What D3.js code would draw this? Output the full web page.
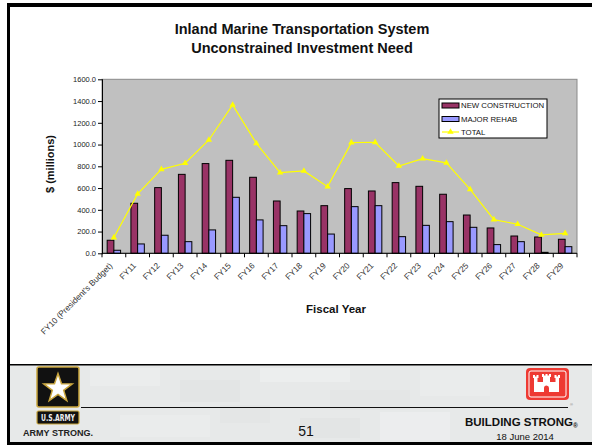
<!DOCTYPE html>
<html>
<head>
<meta charset="utf-8">
<script src="https://cdn.jsdelivr.net/npm/d3@7/dist/d3.min.js"></script>
<style>
  html, body { margin: 0; padding: 0; background: #fff; }
  svg { display: block; font-family: "Liberation Sans", Arial, sans-serif; }
</style>
</head>
<body>
<svg id="slide" width="592" height="445"></svg>
<script>
// Fiscal years and investment need ($ millions)
const categories = ["FY10 (President's Budget)", "FY11", "FY12", "FY13", "FY14", "FY15", "FY16", "FY17", "FY18", "FY19",
  "FY20", "FY21", "FY22", "FY23", "FY24", "FY25", "FY26", "FY27", "FY28", "FY29"];
const newConstruction = [120, 460, 604, 726, 825, 855, 699, 481, 389, 438, 595, 573, 650, 616, 543, 352, 233, 159, 150, 129];
const majorRehab      = [28, 86, 166, 107, 215, 515, 307, 254, 365, 177, 429, 438, 153, 257, 291, 239, 80, 107, 9, 61];
const total           = [145, 546, 772, 828, 1042, 1364, 1011, 742, 757, 613, 1018, 1021, 803, 870, 831, 588, 310, 267, 169, 184];
const yTicks = [0, 200, 400, 600, 800, 1000, 1200, 1400, 1600];
const seriesNames = ["NEW CONSTRUCTION", "MAJOR REHAB", "TOTAL"];

const svg = d3.select("#slide");
const NC_COLOR = "#993366", MR_COLOR = "#9999ff", TOT_COLOR = "#ffff00";

// ---- slide frame ----
// footer background
const footer = svg.append("g");
footer.append("rect").attr("x", 7).attr("y", 365).attr("width", 585).attr("height", 78).attr("fill", "#e7e9e9");
// soft camouflage blocks in the footer
const camo = [[90,368,70,18,"#ebeded"],[180,380,60,22,"#e3e5e5"],[260,368,90,14,"#eceeee"],[330,390,80,20,"#e4e6e6"],
  [420,370,70,26,"#eaecec"],[120,415,90,22,"#eaecec"],[300,418,60,20,"#e3e5e5"],[380,412,70,28,"#ecedee"],[220,405,50,18,"#e4e6e6"]];
footer.selectAll("rect.camo").data(camo).join("rect").attr("class", "camo")
  .attr("x", d => d[0]).attr("y", d => d[1]).attr("width", d => d[2]).attr("height", d => d[3]).attr("fill", d => d[4]);

svg.append("rect").attr("x", 7).attr("y", 3).attr("width", 585).attr("height", 4).attr("fill", "#000");
svg.append("rect").attr("x", 7).attr("y", 3).attr("width", 3).attr("height", 442).attr("fill", "#000");
svg.append("rect").attr("x", 7).attr("y", 364).attr("width", 585).attr("height", 1.5).attr("fill", "#000");
svg.append("rect").attr("x", 7).attr("y", 442).attr("width", 585).attr("height", 3).attr("fill", "#000");

// ---- title ----
const title = svg.append("text").attr("text-anchor", "middle").attr("font-weight", "bold")
  .attr("font-size", 14.5).attr("fill", "#111");
title.append("tspan").attr("x", 302).attr("y", 33.5).text("Inland Marine Transportation System");
title.append("tspan").attr("x", 302).attr("y", 52.5).text("Unconstrained Investment Need");

// ---- chart ----
const plotLeft = 102, plotRight = 577, plotTop = 79.3, plotBottom = 253.3;
const x = d3.scaleBand().domain(categories).range([plotLeft, plotRight]).padding(0);
const xs = d3.scaleBand().domain(["nc", "mr"]).range([0, x.bandwidth()]).paddingInner(0).paddingOuter(0.77);
const y = d3.scaleLinear().domain([0, 1600]).range([plotBottom, plotTop]);

svg.append("rect").attr("x", plotLeft).attr("y", plotTop).attr("width", plotRight - plotLeft).attr("height", plotBottom - plotTop)
  .attr("fill", "#c0c0c0").attr("stroke", "#8a8a8a").attr("stroke-width", 1);

const groups = svg.append("g").selectAll("g").data(categories).join("g")
  .attr("transform", d => `translate(${x(d)},0)`);
groups.append("rect")
  .attr("x", xs("nc")).attr("width", xs.bandwidth())
  .attr("y", (d, i) => y(newConstruction[i])).attr("height", (d, i) => y(0) - y(newConstruction[i]))
  .attr("fill", NC_COLOR).attr("stroke", "#000").attr("stroke-width", 1);
groups.append("rect")
  .attr("x", xs("mr")).attr("width", xs.bandwidth())
  .attr("y", (d, i) => y(majorRehab[i])).attr("height", (d, i) => y(0) - y(majorRehab[i]))
  .attr("fill", MR_COLOR).attr("stroke", "#000").attr("stroke-width", 1);

// total line with triangle markers
const cx = (d, i) => x(categories[i]) + x.bandwidth() / 2;
svg.append("path").datum(total)
  .attr("d", d3.line().x(cx).y(d => y(d)))
  .attr("fill", "none").attr("stroke", TOT_COLOR).attr("stroke-width", 1.2);
const tri = d3.symbol().type(d3.symbolTriangle).size(18);
svg.append("g").selectAll("path").data(total).join("path")
  .attr("d", tri).attr("transform", (d, i) => `translate(${cx(d, i)},${y(d)})`)
  .attr("fill", TOT_COLOR);

// y axis
const yAxis = svg.append("g").attr("transform", `translate(${plotLeft},0)`)
  .call(d3.axisLeft(y).tickValues(yTicks).tickFormat(d3.format(".1f")).tickSizeInner(4).tickSizeOuter(0));
yAxis.select(".domain").attr("stroke", "#000");
yAxis.selectAll(".tick line").attr("x2", -4).attr("x1", 1).attr("stroke", "#000");
yAxis.selectAll(".tick text").attr("x", -6).attr("font-size", 7.5)
  .attr("font-family", "Liberation Sans, Arial, sans-serif").attr("fill", "#222");

// x axis: ticks between categories
const xAxis = svg.append("g").attr("transform", `translate(0,${plotBottom})`);
xAxis.append("line").attr("x1", plotLeft).attr("x2", plotRight).attr("stroke", "#000");
xAxis.selectAll("line.tk").data(d3.range(categories.length + 1)).join("line").attr("class", "tk")
  .attr("x1", i => i < categories.length ? x(categories[i]) : plotRight)
  .attr("x2", i => i < categories.length ? x(categories[i]) : plotRight)
  .attr("y1", 0).attr("y2", 4).attr("stroke", "#000");
xAxis.selectAll("text").data(categories).join("text")
  .attr("transform", d => `translate(${x(d) + x.bandwidth() / 2 - 1},13) rotate(-45)`)
  .attr("text-anchor", "end").attr("font-size", 8.3).attr("fill", "#333").text(d => d);

// axis titles
svg.append("text").attr("transform", "translate(54,164) rotate(-90)").attr("text-anchor", "middle")
  .attr("font-weight", "bold").attr("font-size", 11).attr("fill", "#111").text("$ (millions)");
svg.append("text").attr("x", 336).attr("y", 313).attr("text-anchor", "middle")
  .attr("font-weight", "bold").attr("font-size", 11.5).attr("fill", "#111").text("Fiscal Year");

// legend
const lg = svg.append("g").attr("transform", "translate(439,99)");
lg.append("rect").attr("width", 108).attr("height", 39).attr("fill", "#fff").attr("stroke", "#000").attr("stroke-width", 1);
const rowsY = [6.5, 20, 33];
lg.append("rect").attr("x", 3).attr("y", rowsY[0] - 2.5).attr("width", 17).attr("height", 5)
  .attr("fill", NC_COLOR).attr("stroke", "#000");
lg.append("rect").attr("x", 3).attr("y", rowsY[1] - 2.5).attr("width", 17).attr("height", 5)
  .attr("fill", MR_COLOR).attr("stroke", "#000");
lg.append("line").attr("x1", 3).attr("x2", 20).attr("y1", rowsY[2]).attr("y2", rowsY[2])
  .attr("stroke", TOT_COLOR).attr("stroke-width", 1.2);
lg.append("path").attr("d", tri).attr("transform", `translate(11.5,${rowsY[2]})`).attr("fill", TOT_COLOR);
lg.selectAll("text").data(seriesNames).join("text")
  .attr("x", 22).attr("y", (d, i) => rowsY[i] + 2.8).attr("font-size", 7.8).attr("fill", "#111").text(d => d);

// ---- footer content ----
// Army star logo
const army = svg.append("g");
army.append("rect").attr("x", 37).attr("y", 367).attr("width", 42).attr("height", 40).attr("rx", 2)
  .attr("fill", "#111").attr("stroke", "#c9a53c").attr("stroke-width", 1.5);
const star = d3.range(10).map(i => {
  const r = i % 2 === 0 ? 15 : 6, a = -Math.PI / 2 + i * Math.PI / 5;
  return [58 + r * Math.cos(a), 388.5 + r * Math.sin(a)];
});
army.append("path").attr("d", "M" + star.join("L") + "Z").attr("fill", "#fff")
  .attr("stroke", "#c9a53c").attr("stroke-width", 1.5).attr("stroke-linejoin", "miter");
army.append("rect").attr("x", 37).attr("y", 411).attr("width", 42).attr("height", 13).attr("rx", 1.5)
  .attr("fill", "#111").attr("stroke", "#c9a53c").attr("stroke-width", 1.2);
army.append("text").attr("x", 58).attr("y", 420.5).attr("text-anchor", "middle").attr("font-size", 8)
  .attr("font-weight", "bold").attr("fill", "#eee").attr("textLength", 34).attr("lengthAdjust", "spacingAndGlyphs")
  .attr("font-family", "DejaVu Sans Condensed, Liberation Sans Narrow, sans-serif").text("U.S.ARMY");
army.append("text").attr("x", 23).attr("y", 435.5).attr("font-size", 8.5).attr("font-weight", "bold")
  .attr("fill", "#222").attr("textLength", 70).attr("lengthAdjust", "spacingAndGlyphs").text("ARMY STRONG.");

// footer rule
svg.append("line").attr("x1", 81).attr("x2", 568).attr("y1", 407.5).attr("y2", 407.5).attr("stroke", "#111");

svg.append("text").attr("x", 306).attr("y", 436).attr("text-anchor", "middle").attr("font-size", 14)
  .attr("fill", "#111").text("51");

// Corps of Engineers castle logo
const castle = svg.append("g").attr("transform", "translate(526,368)");
castle.append("rect").attr("width", 43).attr("height", 32).attr("rx", 4).attr("fill", "#ee3a33");
castle.append("rect").attr("x", 3).attr("y", 3).attr("width", 37).attr("height", 26).attr("rx", 2)
  .attr("fill", "none").attr("stroke", "#fff").attr("stroke-width", 1);
castle.append("path").attr("fill", "#fff").attr("d",
  "M8,24 L8,10 L7,10 L7,7 L9,7 L9,8.5 L10.5,8.5 L10.5,7 L12.5,7 L12.5,10 L11.5,10 L11.5,14 L17,14 L17,9 L16,9 L16,6 L18,6 L18,7.5 L19.5,7.5 L19.5,6 L21.5,6 L21.5,7.5 L23,7.5 L23,6 L25,6 L25,9 L24,9 L24,14 L29.5,14 L29.5,10 L28.5,10 L28.5,7 L30.5,7 L30.5,8.5 L32,8.5 L32,7 L34,7 L34,10 L33,10 L33,24 L23,24 L23,20 A2.5,2.5 0 0 0 18,20 L18,24 Z");
svg.append("text").attr("x", 570).attr("y", 406).attr("font-size", 4).attr("fill", "#777").text("®");

svg.append("text").attr("x", 465).attr("y", 425.5).attr("font-size", 11.5)
  .attr("font-weight", "bold").attr("fill", "#111")
  .html('BUILDING STRONG<tspan font-size="6.5" dy="2">®</tspan>');
svg.append("text").attr("x", 525).attr("y", 440).attr("text-anchor", "middle").attr("font-size", 9.5)
  .attr("fill", "#111").text("18 June 2014");
</script>
</body>
</html>
